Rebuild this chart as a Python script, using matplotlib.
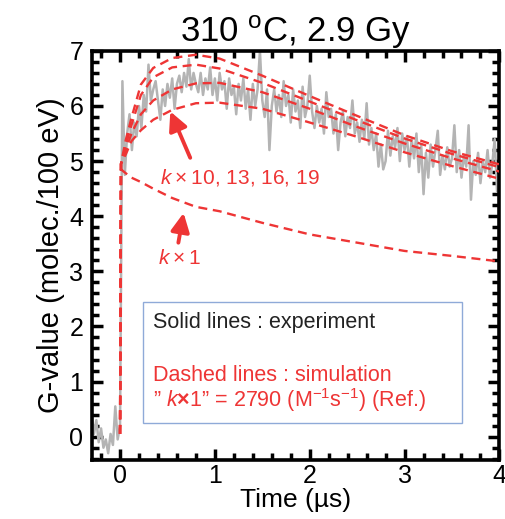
import matplotlib
matplotlib.use("Agg")
import matplotlib.pyplot as plt
import numpy as np
from matplotlib.patches import Rectangle
from matplotlib.ticker import MultipleLocator

plt.rcParams['font.family'] = ['Liberation Sans', 'DejaVu Sans']
plt.rcParams['mathtext.fontset'] = 'custom'
plt.rcParams['mathtext.rm'] = 'Liberation Sans'
plt.rcParams['mathtext.it'] = 'Liberation Sans:italic'
plt.rcParams['mathtext.bf'] = 'Liberation Sans:bold'

# experiment (gray), sampled every 0.025 us starting at -0.3 us
t_start = -0.3
t_step = 0.025
g_exp = [
    0.40, 0.05, 0.30, -0.10, 0.15, -0.20, -0.05, -0.30, 0.05, -0.15, 0.55, -0.05,
    0.20, 6.45, 4.75, 5.50, 5.85, 5.20, 5.70, 5.45, 6.00, 5.60, 6.20, 5.90, 6.75,
    6.10, 6.30, 6.45, 6.10, 5.75, 6.30, 6.00, 6.40, 6.15, 6.50, 5.95, 6.40,
    6.55, 6.25, 6.60, 6.35, 6.85, 6.30, 6.60, 6.40, 6.25, 6.60, 6.20, 6.50, 6.30,
    6.70, 6.20, 6.50,
    6.10, 6.60, 6.30, 6.45, 5.95, 6.50, 6.20, 6.35, 5.85, 6.40, 6.10, 6.50, 5.95,
    6.30, 5.75, 6.40, 6.00, 6.30, 7.00, 6.10, 5.80, 6.30, 5.20, 6.00, 6.30, 5.90,
    6.20, 5.80, 6.45, 6.00, 6.20, 5.70, 6.30, 5.90, 6.10, 5.60, 6.35, 5.80, 6.00,
    6.55,
    5.90, 5.60, 6.00, 5.70, 5.95, 5.50, 6.25, 5.80, 5.95, 5.50, 5.85, 5.20, 5.70,
    5.90, 5.45, 5.80, 5.60, 6.10, 5.50, 5.70,
    5.35, 5.75, 5.40, 6.05, 5.30, 5.60, 5.20, 5.50, 4.90, 5.30, 4.85, 5.00, 5.55,
    5.10, 5.45, 5.25, 5.60, 5.00, 5.50, 5.20,
    5.45, 4.90, 5.40, 5.05, 5.50, 4.80, 5.30, 4.40, 5.15, 4.70, 5.30, 4.90, 5.20,
    5.55, 4.75, 5.10, 4.85, 5.25, 4.90, 5.05,
    5.65, 4.80, 5.20, 4.70, 5.10, 4.90, 5.65, 4.30, 5.00, 4.75, 5.15, 4.60, 5.00,
    4.80, 5.20, 4.70, 4.95, 5.40, 4.45, 4.80,
]
t_exp = t_start + t_step * np.arange(len(g_exp))

# simulations (red dashed)
t_sim = [0.0, 0.01, 0.06, 0.12, 0.22, 0.35, 0.55, 0.8, 1.05, 1.5, 2.0, 2.5, 3.0, 3.5, 4.0]
g_k1 = [0.05, 4.85, 4.78, 4.70, 4.62, 4.50, 4.33, 4.17, 4.09, 3.88, 3.67, 3.52, 3.37, 3.28, 3.18]
g_k10 = [0.05, 4.95, 5.12, 5.36, 5.56, 5.75, 5.93, 6.05, 6.06, 5.95, 5.70, 5.44, 5.16, 4.91, 4.68]
g_k13 = [0.05, 4.95, 5.20, 5.50, 5.85, 6.10, 6.30, 6.41, 6.42, 6.25, 5.95, 5.62, 5.32, 5.05, 4.81]
g_k16 = [0.05, 4.95, 5.28, 5.65, 6.20, 6.52, 6.70, 6.75, 6.68, 6.42, 6.08, 5.74, 5.41, 5.13, 4.89]
g_k19 = [0.05, 4.95, 5.38, 5.78, 6.39, 6.69, 6.87, 6.93, 6.86, 6.55, 6.18, 5.82, 5.47, 5.18, 4.94]

red = '#ee3535'
gray = '#b4b4b4'

fig = plt.figure(figsize=(5.06, 5.19), dpi=100)
ax = fig.add_axes([0.181, 0.114, 0.806, 0.788])

ax.plot(t_exp, g_exp, color=gray, lw=1.8, zorder=2)
for g in [g_k1, g_k10, g_k13, g_k16, g_k19]:
    ax.plot(t_sim, g, color=red, lw=1.7, dashes=(3.8, 2.4), zorder=3)

ax.set_xlim(-0.3, 4.0)
ax.set_ylim(-0.42, 7.0)
ax.xaxis.set_major_locator(MultipleLocator(1))
ax.xaxis.set_minor_locator(MultipleLocator(0.2))
ax.yaxis.set_major_locator(MultipleLocator(1))
ax.yaxis.set_minor_locator(MultipleLocator(0.2))
ax.tick_params(which='both', direction='in', top=True, right=True, width=2.5)
ax.tick_params(which='major', length=8, labelsize=18)
ax.tick_params(axis='y', which='major', pad=6)
ax.tick_params(axis='x', which='major', pad=3)
ax.tick_params(which='minor', length=5)
for s in ax.spines.values():
    s.set_linewidth(2.6)

ax.set_title('310 $^{\\rm o}$C, 2.9 Gy', fontsize=25, pad=5)
ax.set_xlabel('Time (\u00b5s)', fontsize=19, labelpad=0)
ax.set_ylabel('G-value (molec./100 eV)', fontsize=21, labelpad=3)

# annotations
ax.annotate('', xy=(0.53, 5.90), xytext=(0.74, 5.06),
            arrowprops=dict(arrowstyle='-|>', color=red, lw=2.8, mutation_scale=28, shrinkA=0, shrinkB=0))
ax.text(0.42, 4.70, '$k$\u2009\u00d7\u200910, 13, 16, 19', color=red, fontsize=15, va='center', ha='left')
ax.annotate('', xy=(0.67, 4.06), xytext=(0.615, 3.52),
            arrowprops=dict(arrowstyle='-|>', color=red, lw=2.8, mutation_scale=28, shrinkA=0, shrinkB=0))
ax.text(0.40, 3.23, '$k$\u2009\u00d7\u20091', color=red, fontsize=15, va='center', ha='left')

# note box
ax.add_patch(Rectangle((0.126, 0.09), 0.782, 0.296, transform=ax.transAxes,
                       fill=False, edgecolor='#8faad8', lw=1.0, zorder=4))
ax.text(0.151, 0.337, 'Solid lines : experiment', transform=ax.transAxes,
        fontsize=15.5, color='#222222', va='center', ha='left')
ax.text(0.151, 0.206, 'Dashed lines : simulation', transform=ax.transAxes,
        fontsize=15.5, color=red, va='center', ha='left')
ax.text(0.151, 0.145, '\u201d $k\\mathbf{\\times}$1\u201d = 2790 (M$^{-1}$s$^{-1}$) (Ref.)',
        transform=ax.transAxes, fontsize=15.5, color=red, va='center', ha='left')

fig.savefig('out.png', dpi=100)
